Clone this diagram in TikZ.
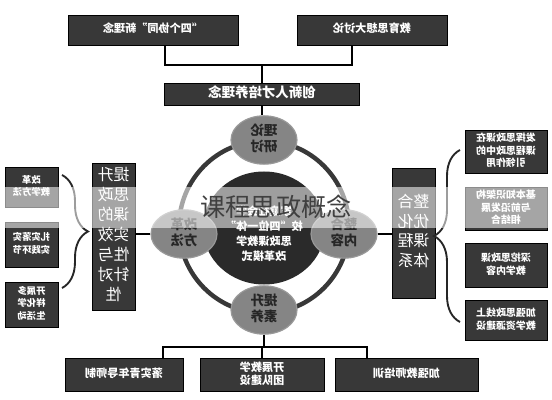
\documentclass[tikz,border=0pt]{standalone}
\usepackage{fontspec}
\setmainfont{Noto Sans CJK SC}
\usepackage{graphicx}
\usepackage{tikz}
\usetikzlibrary{shapes.geometric,decorations.pathreplacing}
\definecolor{boxdark}{HTML}{383838}
\definecolor{circgray}{HTML}{858585}
\definecolor{coredark}{HTML}{2A2A2A}
% mirrored text, as the reference prints it
\newcommand{\mirtext}[1]{\reflectbox{\begin{tabular}{@{}c@{}}#1\end{tabular}}}
\tikzset{
  darkbox/.style={rectangle, draw=black, line width=0.8pt, fill=boxdark, text=white, inner sep=0pt},
  topbox/.style={darkbox, minimum height=0.9cm, font=\fontsize{9.5}{11}\selectfont\bfseries},
  banner/.style={darkbox, minimum width=5.85cm, minimum height=0.66cm, font=\fontsize{11.5}{13}\selectfont\bfseries},
  bigbox/.style={darkbox, minimum width=1.29cm, font=\fontsize{13.5}{17}\selectfont},
  leftbox/.style={darkbox, minimum width=1.59cm, font=\fontsize{8}{10.5}\selectfont\bfseries},
  rightbox/.style={darkbox, minimum width=2.46cm, font=\fontsize{8.5}{11}\selectfont\bfseries},
  botbox/.style={darkbox, minimum height=0.99cm, font=\fontsize{9.5}{11.5}\selectfont\bfseries},
  smallc/.style={ellipse, draw=black!40, line width=1pt, fill=circgray, text=black!85, inner sep=0pt,
    minimum width=1.98cm, minimum height=1.45cm, font=\fontsize{11.5}{13.5}\selectfont\bfseries},
  core/.style={ellipse, fill=coredark, text=white, inner sep=0pt, minimum width=3.66cm, minimum height=3.39cm},
  ring/.style={line width=3.8pt, draw=boxdark},
  line/.style={line width=1pt, draw=black},
  brc/.style={decorate, decoration={brace, amplitude=0.78cm}, line width=1.6pt, draw=black!85},
  concept/.style={text=black!75, font=\fontsize{21.5}{24}\selectfont}
}
\begin{document}
\begin{tikzpicture}[x=0.03cm, y=-0.03cm]
  \fill[white] (0,0) rectangle (552,400);
  \useasboundingbox (0,0) rectangle (552,400);

  % top row
  \node[topbox, minimum width=5.1cm] (tl) at (153,30) {\mirtext{“四个协同”新理念}};
  \node[topbox, minimum width=4.5cm] (tr) at (372,30) {\mirtext{教育思想大讨论}};
  \node[banner] (banner) at (262,94) {\mirtext{创新人才培养理念}};
  \coordinate (jtop) at (262,65);
  \draw[line] ([xshift=0.36cm]tl.south) |- (jtop) -| ([xshift=-0.6cm]tr.south);
  \draw[line] (jtop) -- (jtop |- banner.north);

  % ring and circles
  \draw[ring] (264,227) ellipse [x radius=2.55cm, y radius=2.58cm];
  \node[core] (core) at (264,228) {};
  \node[text=white, font=\fontsize{9.5}{13}\selectfont\bfseries] (coretext) at (264,235)
    {\mirtext{家庭社会学\\校“四位一体”\\思政课教学\\改革模式}};
  \node[smallc] (topc) at (264,140) {\mirtext{理论\\研讨}};
  \node[smallc] (leftc) at (184,234) {\mirtext{改革\\方法}};
  \node[smallc] (rightc) at (344,234) {\mirtext{整合\\内容}};
  \node[smallc] (botc) at (264,310) {\mirtext{提升\\素养}};
  \draw[line] (banner.south) -- (banner.south |- topc.north);

  % left side
  \node[bigbox, minimum height=4.41cm] (L) at (113.5,236.5) {\mirtext{提升\\思政\\课的\\实效\\性与\\针对\\性}};
  \draw[line] (leftc.west) -- (leftc.west -| L.east);
  \node[leftbox, minimum height=1.2cm] (s1) at (31.5,187) {\mirtext{改革\\教学方法}};
  \node[leftbox, minimum height=1.35cm] (s2) at (31.5,244.5) {\mirtext{扎实落实\\实践环节}};
  \node[leftbox, minimum height=1.35cm] (s3) at (31.5,304.5) {\mirtext{开展多\\样化学\\生活动}};
  \coordinate (lbt) at (62,175);
  \coordinate (lbb) at (62,288);
  \draw[brc] (lbt) -- (lbb);

  % right side
  \node[bigbox, minimum height=3.9cm] (R) at (413.5,233) {\mirtext{整合\\优化\\课程\\体系}};
  \draw[line] (rightc.east) -- (rightc.east -| R.west);
  \node[rightbox, minimum height=1.29cm] (r1) at (506,151.5) {\mirtext{发挥思政课在\\课程思政中的\\引领作用}};
  \node[rightbox, minimum height=1.29cm] (r2) at (506,208.5) {\mirtext{基本知识架构\\与前沿发展\\相结合}};
  \node[rightbox, minimum height=1.32cm] (r3) at (506,265) {\mirtext{深挖思政课\\教学内容}};
  \node[rightbox, minimum height=1.2cm] (r4) at (506,320) {\mirtext{加强思政线上\\教学资源建设}};
  \coordinate (rbb) at (460,322);
  \coordinate (rbt) at (460,150);
  \draw[brc] (rbb) -- (rbt);

  % bottom row
  \node[botbox, minimum width=3.54cm] (b1) at (124,375) {\mirtext{落实青年导师制}};
  \node[botbox, minimum width=3.72cm] (b2) at (262,375) {\mirtext{开展教学\\团队建设}};
  \node[botbox, minimum width=4.29cm] (b3) at (406.5,375) {\mirtext{加强教师培训}};
  \coordinate (jbot) at (264,347);
  \draw[line] (botc.south) -- (jbot);
  \draw[line] ([xshift=1.17cm]b1.north) |- (jbot) -| ([xshift=-1.185cm]b3.north);
  \draw[line] (jbot -| b2.north) -- (b2.north);

  % washed band and title
  \fill[white, opacity=0.55] (0,187) rectangle (552,228);
  \node[concept] (title) at (276,207) {课程思政概念};
\end{tikzpicture}
\end{document}
